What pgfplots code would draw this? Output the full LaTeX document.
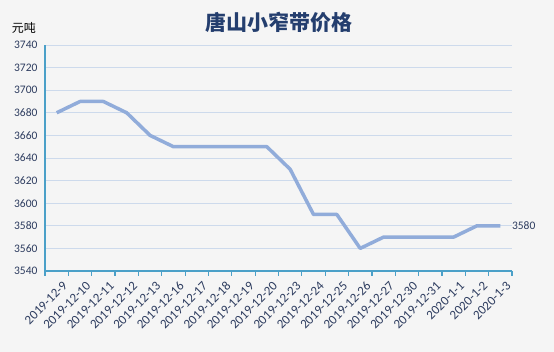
\documentclass[border=0pt]{standalone}
\usepackage{pgfplots}
\pgfplotsset{compat=1.18}
\usepackage{fontspec}
\setmainfont{Carlito}
\newfontfamily\cjk{Noto Sans CJK SC}
\definecolor{bgc}{RGB}{245,245,245}
\definecolor{axc}{RGB}{75,160,200}
\definecolor{gridc}{RGB}{205,218,236}
\definecolor{linec}{RGB}{145,172,218}
\definecolor{txtc}{RGB}{45,60,95}
\definecolor{titc}{RGB}{36,62,110}
\begin{document}
\begin{tikzpicture}
\fill[bgc] (-45pt,-81pt) rectangle (509pt,271pt);
\begin{axis}[
  scale only axis, width=467pt, height=226pt,
  xmin=-0.5, xmax=19.5, ymin=3540, ymax=3740,
  ytick={3540,3560,...,3740},
  xtick={0,...,19},
  xticklabels={2019-12-9,2019-12-10,2019-12-11,2019-12-12,2019-12-13,2019-12-16,2019-12-17,2019-12-18,2019-12-19,2019-12-20,2019-12-23,2019-12-24,2019-12-25,2019-12-26,2019-12-27,2019-12-30,2019-12-31,2020-1-1,2020-1-2,2020-1-3},
  minor xtick={-0.5,0.5,...,19.5},
  major tick length=0pt,
  minor tick length=5pt,
  xtick align=outside,
  axis x line*=bottom, axis y line*=left,
  axis line style={axc, line width=1.2pt},
  every minor tick/.style={axc, line width=1.2pt},
  ymajorgrids, grid style={gridc, line width=0.8pt},
  /pgf/number format/assume math mode=true,
  /pgf/number format/1000 sep={},
  yticklabel style={font=\fontsize{11.5}{12}\selectfont, text=txtc, xshift=-4pt},
  xticklabel style={font=\fontsize{13}{13}\selectfont, text=txtc, rotate=45, anchor=east, inner sep=0pt, xshift=-3pt, yshift=-15pt},
  clip=false,
]
\addplot[linec, line width=3.5pt, line join=round] coordinates {
(0,3680) (1,3690) (2,3690) (3,3680) (4,3660) (5,3650) (6,3650) (7,3650) (8,3650) (9,3650)
(10,3630) (11,3590) (12,3590) (13,3560) (14,3570) (15,3570) (16,3570) (17,3570) (18,3580) (19,3580)
};
\node[anchor=west, text=txtc, font=\fontsize{11.5}{12}\selectfont] at (axis cs:19.35,3580) {3580};
\end{axis}
\node[text=titc, font=\cjk\bfseries\fontsize{21}{24}\selectfont] at (234pt,249pt) {唐山小窄带价格};
\node[text=black, font=\cjk\fontsize{12}{14}\selectfont] at (-21pt,243pt) {元吨};
\end{tikzpicture}
\end{document}
